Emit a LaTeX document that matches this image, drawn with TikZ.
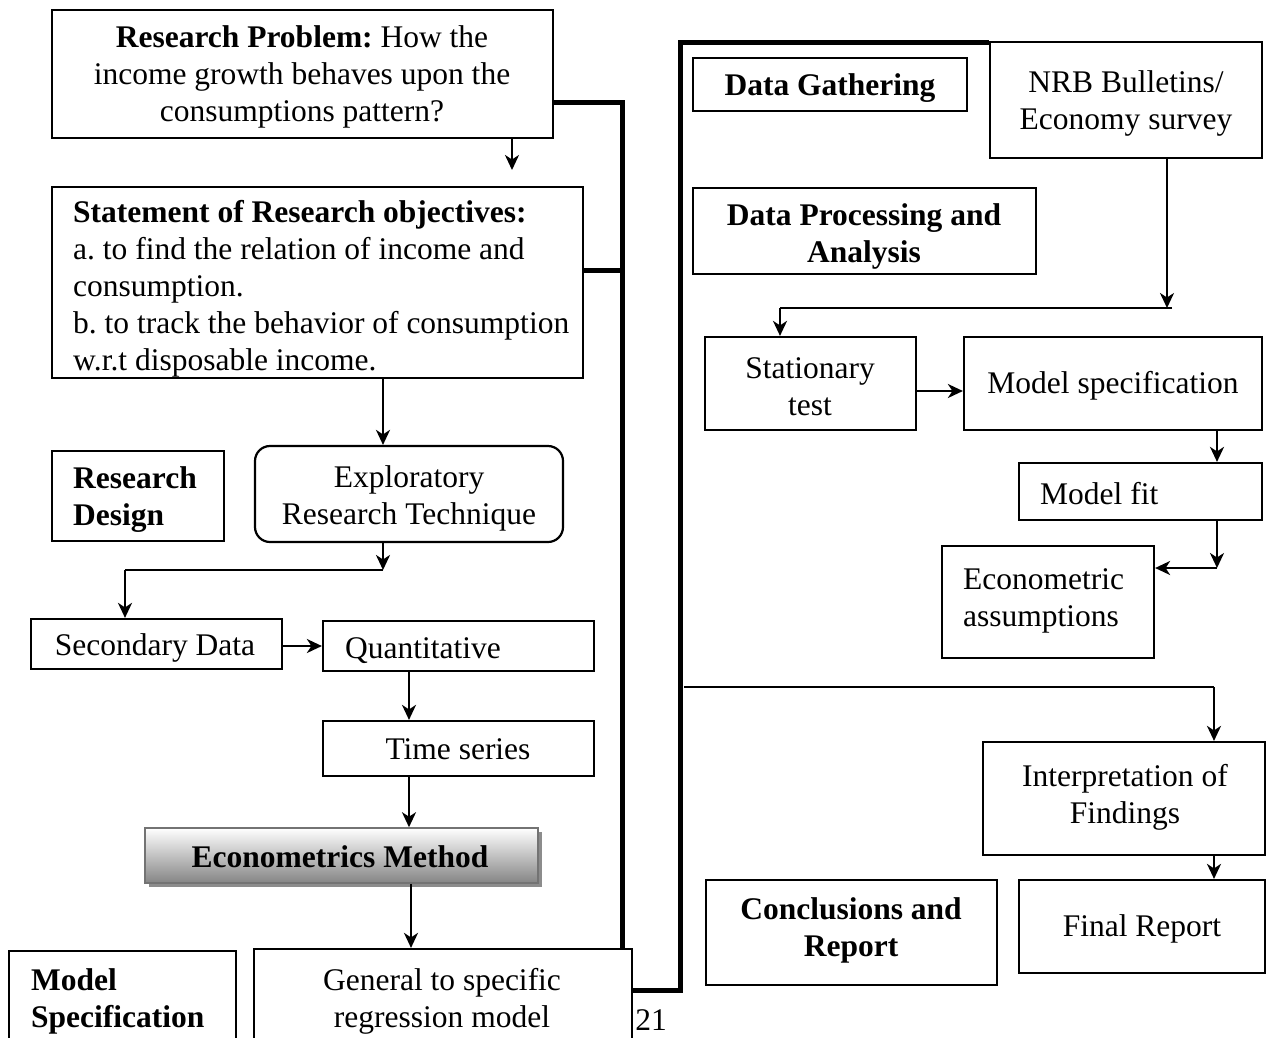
\documentclass[tikz,border=0pt]{standalone}
\usepackage{fontspec}
\setmainfont{Liberation Serif}
\usetikzlibrary{fit,arrows.meta,shadows}
\frenchspacing
\begin{document}
\begin{tikzpicture}[x=1pt,y=-1pt,
  box/.style={draw, line width=2.2pt, inner sep=0pt},
  txt/.style={font=\fontsize{31.5}{37}\selectfont, inner sep=0pt},
  ln/.style={line width=2.2pt},
  arr/.style={line width=2.2pt, -{Stealth[length=15pt,width=14pt,inset=4.5pt]}},
  heavy/.style={line width=5pt}]
\useasboundingbox (0,0) rectangle (1268,1037);
% ---------- left column boxes ----------
\node[box, fit={(52,10)(553,138)}] (rp) {};
\node[txt, align=center] (rpT) at (302,77) {\textbf{Research Problem:} How the\\income growth behaves upon the\\consumptions pattern?};
\node[box, fit={(52,187)(583,378)}] (so) {};
\node[txt, align=left, anchor=west] (soT) at (73,289) {\textbf{Statement of Research objectives:}\\a. to find the relation of income and\\consumption.\\b. to track the behavior of consumption\\w.r.t disposable income.};
\node[box, fit={(52,451)(224,541)}] (rd) {};
\node[txt, align=left, anchor=west] (rdT) at (73,500) {\textbf{Research}\\\textbf{Design}};
\node[box, rounded corners=15pt, fit={(255,446)(563,542)}] (ex) {};
\node[txt, align=center] (exT) at (409,498) {Exploratory\\Research Technique};
\node[box, fit={(31,619)(282,669)}] (sec) {};
\node[txt] (secT) at (155,648) {Secondary Data};
\node[box, fit={(323,621)(594,671)}] (qu) {};
\node[txt, anchor=west] (quT) at (345,651) {Quantitative};
\node[box, fit={(323,721)(594,776)}] (ts) {};
\node[txt] (tsT) at (458,749) {Time series};
\node[fit={(145,828)(538,883)}, inner sep=0pt, draw=black!55, line width=1.6pt,
      top color=white, bottom color=black!48,
      drop shadow={shadow xshift=3.5pt, shadow yshift=-3.5pt, fill=black!45, opacity=1}] (em) {};
\node[txt] (emT) at (340,857) {\textbf{Econometrics Method}};
\node[box, fit={(9,951)(236,1050)}] (msp) {};
\node[txt, align=left, anchor=west] (mspT) at (31,1001) {\textbf{Model}\\\textbf{Specification}};
\node[box, fit={(254,949)(632,1050)}] (gen) {};
\node[txt, align=center] (genT) at (442,1001) {General to specific\\regression model};
\node[txt] (pg) at (651,1020) {21};
% ---------- right column boxes ----------
\node[box, fit={(693,58)(967,111)}] (dg) {};
\node[txt] (dgT) at (830,88) {\textbf{Data Gathering}};
\node[box, fit={(990,42)(1262,158)}] (nrb) {};
\node[txt, align=center] (nrbT) at (1126,103) {NRB Bulletins/\\Economy survey};
\node[box, fit={(693,188)(1036,274)}] (dp) {};
\node[txt, align=center] (dpT) at (864,236) {\textbf{Data Processing and}\\\textbf{Analysis}};
\node[box, fit={(705,337)(916,430)}] (st) {};
\node[txt, align=center] (stT) at (810,387) {Stationary\\test};
\node[box, fit={(964,337)(1262,430)}] (ms) {};
\node[txt] (msT) at (1113,386) {Model specification};
\node[box, fit={(1019,463)(1262,520)}] (mf) {};
\node[txt, anchor=west] (mfT) at (1040,494) {Model fit};
\node[box, fit={(942,546)(1154,658)}] (ea) {};
\node[txt, align=left, anchor=west] (eaT) at (963,601) {Econometric\\assumptions};
\node[box, fit={(983,742)(1265,855)}] (ip) {};
\node[txt, align=center] (ipT) at (1125,797) {Interpretation of\\Findings};
\node[box, fit={(706,880)(997,985)}] (cr) {};
\node[txt, align=center] (crT) at (851,930) {\textbf{Conclusions and}\\\textbf{Report}};
\node[box, fit={(1019,880)(1265,973)}] (fr) {};
\node[txt] (frT) at (1142,929) {Final Report};
% ---------- heavy connectors ----------
\coordinate (t1) at (622,102);
\coordinate (t2) at (622,270);
\coordinate (t3) at (680,990);
\coordinate (t4) at (680,42);
\draw[heavy] (t1 -| rp.east) -- (t1) -- (t1 |- gen.north);
\draw[heavy] (t2 -| so.east) -- (t2);
\draw[heavy] (t3 -| gen.east) -- (t3) -- (t4) -- (t4 -| nrb.west);
% ---------- thin connectors, left ----------
\coordinate (k1) at (512,170);
\draw[arr] (k1 |- rp.south) -- (k1);
\coordinate (k2) at (383,0);
\draw[arr] (k2 |- so.south) -- (k2 |- ex.north);
\coordinate (k3) at (383,570);
\coordinate (k4) at (125,570);
\draw[arr] (k3 |- ex.south) -- (k3);
\draw[ln] (k3) -- (k4);
\draw[arr] (k4) -- (k4 |- sec.north);
\coordinate (k5) at (0,646);
\draw[arr] (k5 -| sec.east) -- (k5 -| qu.west);
\coordinate (k6) at (409,0);
\draw[arr] (k6 |- qu.south) -- (k6 |- ts.north);
\draw[arr] (k6 |- ts.south) -- (k6 |- em.north);
\coordinate (k7) at (411,0);
\draw[arr] (k7 |- em.south) -- (k7 |- gen.north);
% ---------- thin connectors, right ----------
\coordinate (r1) at (1167,308);
\coordinate (r2) at (1172,308);
\coordinate (r3) at (780,308);
\draw[arr] (r1 |- nrb.south) -- (r1);
\draw[ln] (r2) -- (r3);
\draw[arr] (r3) -- (r3 |- st.north);
\coordinate (r4) at (0,391);
\draw[arr] (r4 -| st.east) -- (r4 -| ms.west);
\coordinate (r5) at (1217,0);
\draw[arr] (r5 |- ms.south) -- (r5 |- mf.north);
\coordinate (r6) at (1217,568);
\draw[arr] (r6 |- mf.south) -- (r6);
\draw[arr] (r6) -- (r6 -| ea.east);
\coordinate (r7) at (684,687);
\coordinate (r8) at (1214,687);
\draw[ln] (r7) -- (r8);
\draw[arr] (r8) -- (r8 |- ip.north);
\coordinate (r9) at (1214,0);
\draw[arr] (r9 |- ip.south) -- (r9 |- fr.north);
\end{tikzpicture}
\end{document}
